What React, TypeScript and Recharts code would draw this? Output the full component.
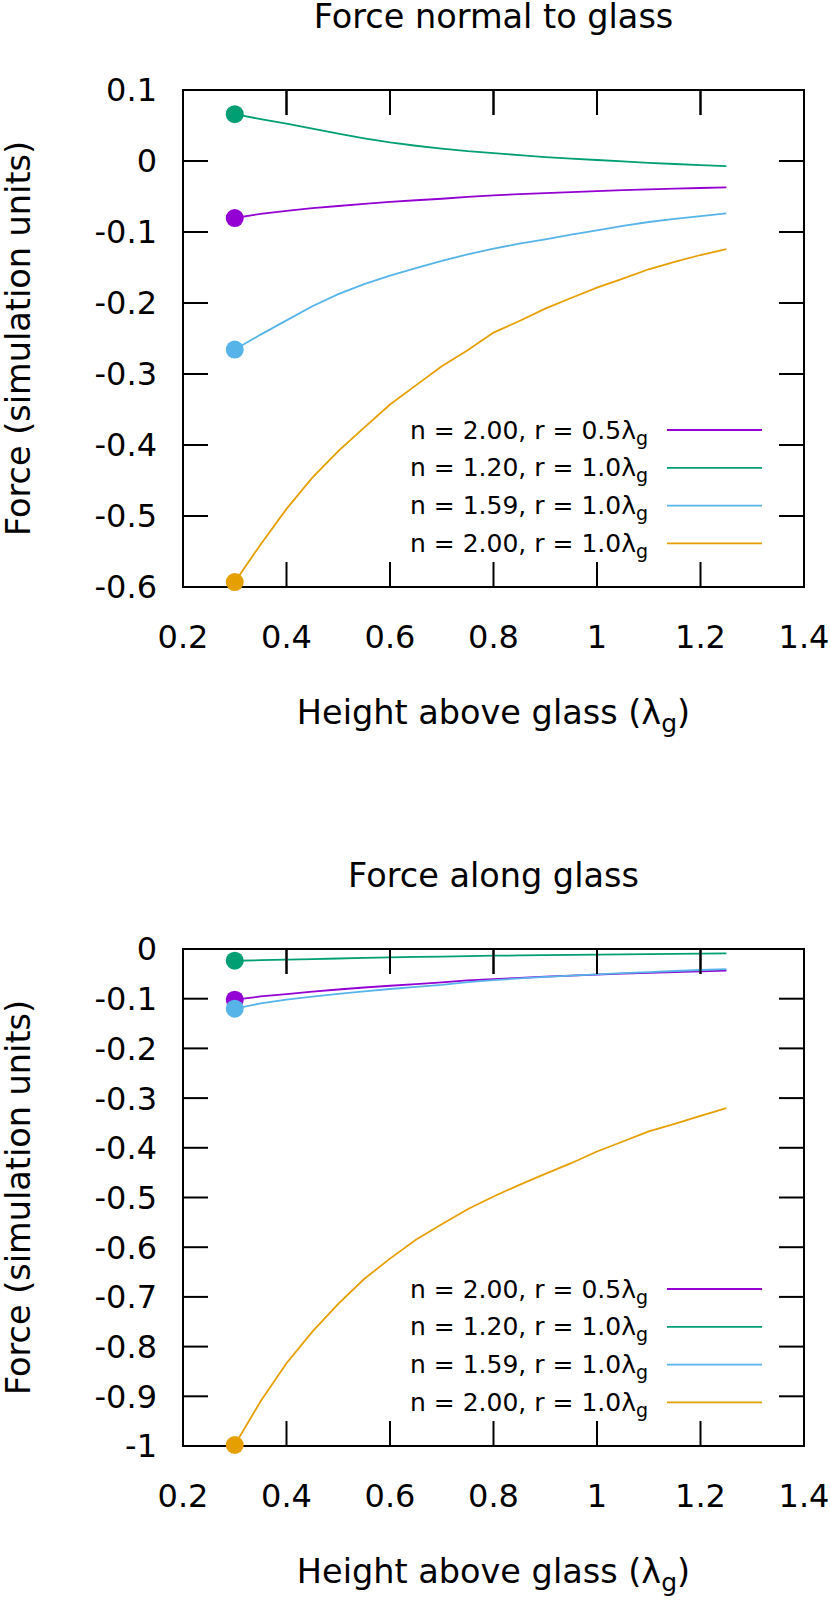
import React from 'react';
import { ComposedChart, Line, XAxis, YAxis, ReferenceArea, ReferenceLine, Legend } from 'recharts';

// Heights above glass (in units of lambda_g)
const heights = [0.3, 0.35, 0.4, 0.45, 0.5, 0.55, 0.6, 0.65, 0.7, 0.75, 0.8, 0.85, 0.9, 0.95, 1.0, 1.05, 1.1, 1.15, 1.2, 1.25];

// Force normal to glass
const normalN200R05 = [-0.0803, -0.0745, -0.0703, -0.0665, -0.0634, -0.0603, -0.0577, -0.0553, -0.0532, -0.0505, -0.0485, -0.0467, -0.0452, -0.0437, -0.0423, -0.041, -0.0399, -0.0389, -0.038, -0.0372];
const normalN120R10 = [0.066, 0.059, 0.0527, 0.0455, 0.0386, 0.032, 0.0262, 0.0215, 0.0175, 0.0138, 0.0112, 0.0082, 0.0056, 0.0033, 0.0014, -0.0006, -0.0025, -0.0042, -0.0057, -0.0072];
const normalN159R10 = [-0.2656, -0.2445, -0.2245, -0.2045, -0.1875, -0.1735, -0.1615, -0.151, -0.1408, -0.1315, -0.1234, -0.1165, -0.1103, -0.1037, -0.0976, -0.0915, -0.0859, -0.0815, -0.0775, -0.0737];
const normalN200R10 = [-0.593, -0.54, -0.49, -0.446, -0.4085, -0.3755, -0.343, -0.316, -0.289, -0.2665, -0.2417, -0.2254, -0.2079, -0.193, -0.1783, -0.1657, -0.1525, -0.1422, -0.1324, -0.124];

// Force along glass
const alongN200R05 = [-0.102, -0.0955, -0.0906, -0.0858, -0.0815, -0.0775, -0.0739, -0.0705, -0.0672, -0.0632, -0.0605, -0.058, -0.0557, -0.0535, -0.0515, -0.0497, -0.048, -0.0464, -0.045, -0.0435];
const alongN120R10 = [-0.0236, -0.0225, -0.0215, -0.0203, -0.0191, -0.0179, -0.0168, -0.016, -0.0152, -0.0143, -0.0135, -0.013, -0.0125, -0.012, -0.0115, -0.011, -0.0105, -0.01, -0.0095, -0.0088];
const alongN159R10 = [-0.12, -0.1095, -0.102, -0.096, -0.0905, -0.0852, -0.0805, -0.0762, -0.0722, -0.0665, -0.0628, -0.0592, -0.0562, -0.0535, -0.051, -0.0487, -0.0465, -0.0443, -0.0423, -0.0405];
const alongN200R10 = [-0.998, -0.91, -0.8335, -0.77, -0.714, -0.664, -0.623, -0.585, -0.5537, -0.5235, -0.498, -0.4745, -0.4524, -0.431, -0.4075, -0.3873, -0.367, -0.3517, -0.3356, -0.32];

const xTicks = [0.2, 0.4, 0.6, 0.8, 1, 1.2, 1.4];
const normalYTicks = [-0.6, -0.5, -0.4, -0.3, -0.2, -0.1, 0, 0.1];
const alongYTicks = [-1, -0.9, -0.8, -0.7, -0.6, -0.5, -0.4, -0.3, -0.2, -0.1, 0];

const seriesKeys = ['s0', 's1', 's2', 's3'];
const seriesLabels = ['n = 2.00, r = 0.5λ', 'n = 1.20, r = 1.0λ', 'n = 1.59, r = 1.0λ', 'n = 2.00, r = 1.0λ'];
const seriesSub = 'g';
const seriesColors = ['#9400d3', '#009e73', '#56b4e9', '#e69f00'];

const FONT = "'DejaVu Sans', sans-serif";
const W = 830;
const H = 800;
const PLOT_LEFT = 183;
const PLOT_RIGHT = 804;
const PLOT_W = PLOT_RIGHT - PLOT_LEFT;
const PLOT_H = 497;
const Y_AXIS_W = 100;
const X_AXIS_H = 60;
const TICK_LEN = 25;
const TICK_W = 2;
const TICK_FONT = 32;
const LABEL_FONT = 33.5;
const X_DOMAIN: [number, number] = [0.2, 1.4];

const fmt = (v: number) => String(Number(v.toFixed(2)));

function LegendBox() {
  return (
    <svg width={420} height={160} style={{ overflow: 'visible', display: 'block' }}>
      {seriesLabels.map((lab, i) => {
        const y = 30 + i * 37.8;
        return (
          <g key={lab + i}>
            <text x={268} y={y + 8.5} textAnchor="end" fontFamily={FONT} fontSize={25} fill="#000">
              {lab}
              <tspan fontSize={19} dy={6}>{seriesSub}</tspan>
            </text>
            <line x1={287} x2={382} y1={y} y2={y} stroke={seriesColors[i]} strokeWidth={1.8} />
          </g>
        );
      })}
    </svg>
  );
}

const xTick = (p: any) => {
  const v = p.payload.value;
  const isEnd = v === X_DOMAIN[0] || v === X_DOMAIN[1];
  return (
    <g>
      {!isEnd && (
        <>
          <line x1={p.x} x2={p.x} y1={p.y} y2={p.y - TICK_LEN} stroke="#000" strokeWidth={TICK_W} />
          <line x1={p.x} x2={p.x} y1={p.y - PLOT_H} y2={p.y - PLOT_H + TICK_LEN} stroke="#000" strokeWidth={TICK_W} />
        </>
      )}
      <text x={p.x} y={p.y + 61} textAnchor="middle" fontFamily={FONT} fontSize={TICK_FONT} fill="#000">
        {fmt(v)}
      </text>
    </g>
  );
};

function makeYTick(ends: [number, number]) {
  return (p: any) => {
    const v = p.payload.value;
    const isEnd = v === ends[0] || v === ends[1];
    const xl = p.x; // plot left
    const y = p.y;
    return (
      <g>
        {!isEnd && (
          <>
            <line x1={xl} x2={xl + TICK_LEN} y1={y} y2={y} stroke="#000" strokeWidth={TICK_W} />
            <line x1={xl + PLOT_W - TICK_LEN} x2={xl + PLOT_W} y1={y} y2={y} stroke="#000" strokeWidth={TICK_W} />
          </>
        )}
        <text x={xl - 26} y={y + 11.4} textAnchor="end" fontFamily={FONT} fontSize={TICK_FONT} fill="#000">
          {fmt(v)}
        </text>
      </g>
    );
  };
}

function makeXLabel(title: string) {
  return (p: any) => {
    const vb = p.viewBox || {};
    const cx = vb.x + vb.width / 2;
    const plotBottom = vb.y;
    return (
      <g>
        <text x={cx} y={plotBottom - PLOT_H - 62} textAnchor="middle" fontFamily={FONT} fontSize={LABEL_FONT} fill="#000">
          {title}
        </text>
        <text x={cx} y={plotBottom + 137} textAnchor="middle" fontFamily={FONT} fontSize={LABEL_FONT} fill="#000">
          Height above glass (λ
          <tspan fontSize={25} dy={8}>g</tspan>
          <tspan fontSize={LABEL_FONT} dy={-8}>)</tspan>
        </text>
      </g>
    );
  };
}

const yLabel = (p: any) => {
  const vb = p.viewBox || {};
  const x = vb.x + vb.width - 153;
  const cy = vb.y + vb.height / 2;
  return (
    <text
      transform={`translate(${x}, ${cy}) rotate(-90)`}
      x={0}
      y={0}
      textAnchor="middle"
      fontFamily={FONT}
      fontSize={LABEL_FONT}
      fill="#000"
    >
      Force (simulation units)
    </text>
  );
};

function Panel(props: {
  title: string;
  rows: number[][];
  yDomain: [number, number];
  yTicks: number[];
  top: number;
  plotTop: number;
}) {
  const { title, rows, yDomain, yTicks, top, plotTop } = props;
  const plotBottom = plotTop + PLOT_H;
  const data = heights.map((h, i) => {
    const o: any = { h };
    seriesKeys.forEach((k, j) => {
      o[k] = rows[j][i];
    });
    return o;
  });
  // length of an inward tick mark expressed in y-data units
  const tickLenY = (TICK_LEN * (yDomain[1] - yDomain[0])) / PLOT_H;
  const innerXTicks = xTicks.filter((t) => t !== X_DOMAIN[0] && t !== X_DOMAIN[1]);
  return (
    <div style={{ position: 'absolute', left: 0, top, width: W, height: H }}>
      <ComposedChart
        width={W}
        height={H}
        data={data}
        margin={{
          top: plotTop,
          right: W - PLOT_RIGHT,
          bottom: H - plotBottom - X_AXIS_H,
          left: PLOT_LEFT - Y_AXIS_W,
        }}
      >
        <XAxis
          xAxisId="b"
          dataKey="h"
          type="number"
          domain={X_DOMAIN}
          ticks={xTicks}
          height={X_AXIS_H}
          axisLine={false}
          tickLine={false}
          tickSize={0}
          tickMargin={0}
          tick={xTick}
          interval={0}
          label={makeXLabel(title)}
        />
        <YAxis
          yAxisId="l"
          type="number"
          domain={yDomain}
          ticks={yTicks}
          width={Y_AXIS_W}
          axisLine={false}
          tickLine={false}
          tickSize={0}
          tickMargin={0}
          tick={makeYTick(yDomain)}
          interval={0}
          label={yLabel}
        />
        {innerXTicks.map((t) => (
          <ReferenceLine
            key={`top-${t}`}
            xAxisId="b"
            yAxisId="l"
            segment={[
              { x: t, y: yDomain[1] },
              { x: t, y: yDomain[1] - tickLenY },
            ]}
            stroke="#000"
            strokeWidth={TICK_W}
            ifOverflow="visible"
          />
        ))}
        <ReferenceArea
          xAxisId="b"
          yAxisId="l"
          x1={X_DOMAIN[0]}
          x2={X_DOMAIN[1]}
          y1={yDomain[0]}
          y2={yDomain[1]}
          fill="none"
          fillOpacity={0}
          stroke="#000"
          strokeWidth={2}
        />
        {seriesKeys.map((k, j) => (
          <Line
            key={k}
            xAxisId="b"
            yAxisId="l"
            dataKey={k}
            name={seriesLabels[j]}
            type="linear"
            stroke={seriesColors[j]}
            strokeWidth={1.8}
            isAnimationActive={false}
            activeDot={false}
            dot={(p: any) =>
              p.index === 0 ? (
                <circle key={`${k}-d${p.index}`} cx={p.cx} cy={p.cy} r={9} fill={seriesColors[j]} stroke="none" />
              ) : (
                <g key={`${k}-e${p.index}`} />
              )
            }
          />
        ))}
        <Legend
          layout="horizontal"
          verticalAlign="middle"
          align="center"
          wrapperStyle={{ left: 380, top: plotTop + 310, width: 420, height: 160 }}
          content={() => <LegendBox />}
        />
      </ComposedChart>
    </div>
  );
}

export default function App() {
  return (
    <div
      style={{
        position: 'absolute',
        left: 0,
        top: 0,
        width: W,
        height: 1600,
        background: '#fff',
        overflow: 'hidden',
      }}
    >
      <Panel
        title="Force normal to glass"
        rows={[normalN200R05, normalN120R10, normalN159R10, normalN200R10]}
        yDomain={[-0.6, 0.1]}
        yTicks={normalYTicks}
        top={0}
        plotTop={90}
      />
      <Panel
        title="Force along glass"
        rows={[alongN200R05, alongN120R10, alongN159R10, alongN200R10]}
        yDomain={[-1, 0]}
        yTicks={alongYTicks}
        top={800}
        plotTop={149}
      />
    </div>
  );
}
